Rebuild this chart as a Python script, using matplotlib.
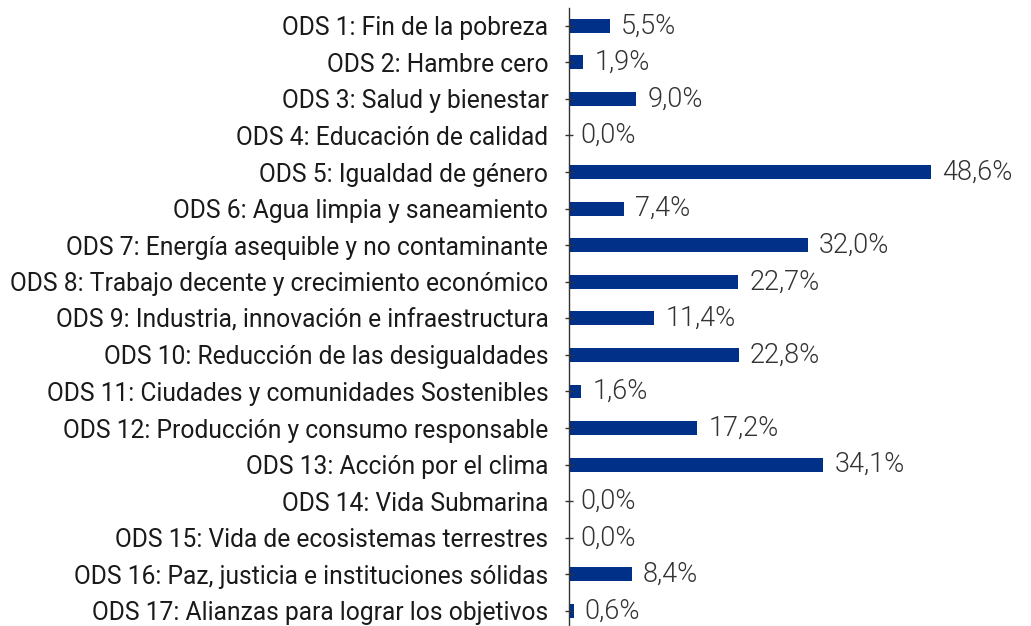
import matplotlib
matplotlib.use("Agg")
import matplotlib.pyplot as plt

categories = [
    "ODS 1: Fin de la pobreza",
    "ODS 2: Hambre cero",
    "ODS 3: Salud y bienestar",
    "ODS 4: Educación de calidad",
    "ODS 5: Igualdad de género",
    "ODS 6: Agua limpia y saneamiento",
    "ODS 7: Energía asequible y no contaminante",
    "ODS 8: Trabajo decente y crecimiento económico",
    "ODS 9: Industria, innovación e infraestructura",
    "ODS 10: Reducción de las desigualdades",
    "ODS 11: Ciudades y comunidades Sostenibles",
    "ODS 12: Producción y consumo responsable",
    "ODS 13: Acción por el clima",
    "ODS 14: Vida Submarina",
    "ODS 15: Vida de ecosistemas terrestres",
    "ODS 16: Paz, justicia e instituciones sólidas",
    "ODS 17: Alianzas para lograr los objetivos",
]
values = [5.5, 1.9, 9.0, 0.0, 48.6, 7.4, 32.0, 22.7, 11.4, 22.8, 1.6, 17.2, 34.1, 0.0, 0.0, 8.4, 0.6]

plt.rcParams['font.family'] = ['Roboto', 'DejaVu Sans']

fig = plt.figure(figsize=(10.31, 6.26), dpi=100)
ax = fig.add_axes([0.552, -0.005, 0.448, 0.993])

y = list(range(len(categories)))
ax.barh(y, values, height=0.38, color="#003087")
ax.set_ylim(len(categories) - 0.5, -0.5)
ax.set_xlim(0, 62)
ax.set_yticks(y)
ax.set_yticklabels(categories, fontsize=17.7, color="#1a1a1a")
ax.tick_params(axis='y', direction='inout', length=6, width=1, color="#333333", pad=12)
ax.set_xticks([])
for s in ['top', 'right', 'bottom']:
    ax.spines[s].set_visible(False)
ax.spines['left'].set_color("#333333")
ax.spines['left'].set_linewidth(1)

for yi, v in zip(y, values):
    ax.annotate(f"{v:.1f}%".replace('.', ','), xy=(v, yi), xytext=(8, 0),
                textcoords='offset points', va='center', ha='left',
                fontsize=19.5, color="#333333", fontweight=300)

fig.savefig("out.png", dpi=100)
